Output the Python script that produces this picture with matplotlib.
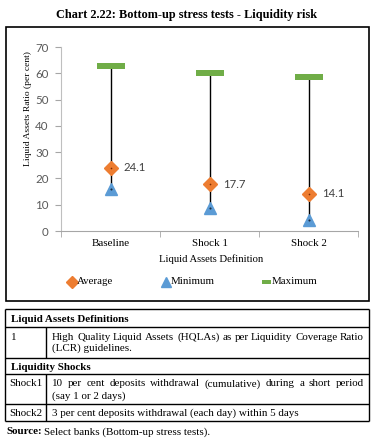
import matplotlib
matplotlib.use("Agg")
import matplotlib.pyplot as plt

# ---- data ----
categories = ["Baseline", "Shock 1", "Shock 2"]
average = [24.1, 17.7, 14.1]
minimum = [16.0, 8.7, 4.2]
maximum = [62.8, 60.1, 58.6]
yticks = [0, 10, 20, 30, 40, 50, 60, 70]

title = "Chart 2.22: Bottom-up stress tests - Liquidity risk"
ylabel = "Liquid Assets Ratio (per cent)"
xlabel = "Liquid Assets Definition"
legend_labels = ["Average", "Minimum", "Maximum"]

ORANGE = "#ED7D31"
BLUE = "#5B9BD5"
GREEN = "#70AD47"
SERIF = "Liberation Serif"
SANS = "Lato"

W, H = 375, 441
fig = plt.figure(figsize=(W / 100, H / 100), dpi=100)

# overlay in pixel coordinates for frame, legend and table
ov = fig.add_axes([0, 0, 1, 1])
ov.set_xlim(0, W)
ov.set_ylim(H, 0)
ov.axis("off")

renderer = fig.canvas.get_renderer()
inv = ov.transData.inverted()

def width_px(a):
    bb = a.get_window_extent(renderer)
    p0 = inv.transform((bb.x0, bb.y0))
    p1 = inv.transform((bb.x1, bb.y0))
    return p1[0] - p0[0]

def px(x0, x1, y0, y1, lw=1.0, c="black"):
    ov.plot([x0, x1], [y0, y1], color=c, lw=lw, solid_capstyle="butt")

# title
ov.text(187, 15, title, family=SERIF, fontweight="bold", fontsize=8.8,
        ha="center", va="center")

# chart frame
ov.add_patch(plt.Rectangle((5.5, 27), 363, 274, fill=False, lw=1.2, ec="black"))

# ---- chart ----
ax = fig.add_axes([61 / W, (H - 231) / H, 297 / W, 184 / H])
ax.patch.set_alpha(0)
x = list(range(len(categories)))
for i in x:
    ax.plot([i, i], [minimum[i], maximum[i]], color="black", lw=1.0, zorder=1)
bar_marker = [(-2.25, -0.5), (2.25, -0.5), (2.25, 0.5), (-2.25, 0.5), (-2.25, -0.5)]
ax.plot(x, maximum, ls="none", marker=bar_marker, ms=19.5, mfc=GREEN, mec=GREEN,
        mew=0, zorder=3)
ax.plot(x, average, ls="none", marker="D", ms=7.2, mfc=ORANGE, mec=ORANGE, zorder=3)
ax.plot(x, minimum, ls="none", marker="^", ms=8.2, mfc=BLUE, mec=BLUE, zorder=3)
ax.plot(x, average, ls="none", marker="o", ms=1.2, mfc="#7a2a00", mec="none", zorder=4)
ax.plot(x, minimum, ls="none", marker="o", ms=1.5, mfc="#1b2d44", mec="none", zorder=4)
for i in x:
    ax.annotate(f"{average[i]:.1f}", (i, average[i]), xytext=(9.5, 0),
                textcoords="offset points", va="center", ha="left",
                family=SANS, fontsize=8.2, color="#404040")

ax.set_xlim(-0.5, 2.5)
ax.set_ylim(0, 70)
ax.set_yticks(yticks)
ax.set_yticklabels([str(v) for v in yticks], family=SANS, fontsize=8.3, color="#595959")
ax.set_xticks(x)
ax.set_xticklabels(categories, family=SERIF, fontsize=7.9)
ax.set_xticks([-0.5, 0.5, 1.5, 2.5], minor=True)
ax.tick_params(axis="x", which="major", length=0, pad=6)
ax.tick_params(axis="x", which="minor", length=4, color="#A6A6A6")
ax.tick_params(axis="y", length=4, color="#A6A6A6", pad=5)
for s in ["top", "right"]:
    ax.spines[s].set_visible(False)
ax.spines["left"].set_color("#BFBFBF")
ax.spines["bottom"].set_color("#A6A6A6")

ov.text(28, 109, ylabel, rotation=90, family=SERIF, fontsize=6.8,
        ha="center", va="center")
ov.text(211, 259, xlabel, family=SERIF, fontsize=7.7, ha="center", va="center")

# legend
LFS = 7.8
ov.plot([72], [282], marker="D", ms=6.5, mfc=ORANGE, mec=ORANGE, ls="none")
ov.text(77, 282, legend_labels[0], family=SERIF, fontsize=LFS, va="center")
ov.plot([166], [282], marker="^", ms=7.5, mfc=BLUE, mec=BLUE, ls="none")
ov.text(171, 282, legend_labels[1], family=SERIF, fontsize=LFS, va="center")
ov.add_patch(plt.Rectangle((262, 280), 9, 4, color=GREEN, lw=0))
ov.text(272, 282, legend_labels[2], family=SERIF, fontsize=LFS, va="center")

# ---- table ----
L, R, C = 5, 369, 46
rows = [309, 327, 358, 374, 404, 421]
for y in rows:
    px(L, R, y, y, lw=1.0)
px(L, L, rows[0], rows[-1])
px(R, R, rows[0], rows[-1])
px(C, C, rows[1], rows[2])
px(C, C, rows[3], rows[5])

TFS = 7.9
ov.text(11, 319, "Liquid Assets Definitions", family=SERIF, fontweight="bold",
        fontsize=TFS, va="center")
ov.text(11, 367, "Liquidity Shocks", family=SERIF, fontweight="bold",
        fontsize=TFS, va="center")
ov.text(11, 337, "1", family=SERIF, fontsize=TFS, va="center")
ov.text(9, 384, "Shock1", family=SERIF, fontsize=TFS, va="center")
ov.text(9, 413, "Shock2", family=SERIF, fontsize=TFS, va="center")

def justified(line, y, x0, x1):
    words = line.split()
    arts = [ov.text(0, y, w, family=SERIF, fontsize=TFS, va="center") for w in words]
    widths = [width_px(a) for a in arts]
    gap = (x1 - x0 - sum(widths)) / (len(words) - 1)
    cx = x0
    for a, w in zip(arts, widths):
        a.set_x(cx)
        cx += w + gap

justified("High Quality Liquid Assets (HQLAs) as per Liquidity Coverage Ratio", 337, 52, 364)
ov.text(52, 348, "(LCR) guidelines.", family=SERIF, fontsize=TFS, va="center")
justified("10 per cent deposits withdrawal (cumulative) during a short period", 384, 52, 364)
ov.text(52, 396, "(say 1 or 2 days)", family=SERIF, fontsize=TFS, va="center")
ov.text(52, 413, "3 per cent deposits withdrawal (each day) within 5 days",
        family=SERIF, fontsize=TFS, va="center")

src = ov.text(6, 432, "Source:", family=SERIF, fontweight="bold", fontsize=TFS,
              va="center")
sw = width_px(src)
ov.text(6 + sw + 2.5, 432, "Select banks (Bottom-up stress tests).", family=SERIF,
        fontsize=TFS, va="center")

fig.savefig("out.png", dpi=100)
